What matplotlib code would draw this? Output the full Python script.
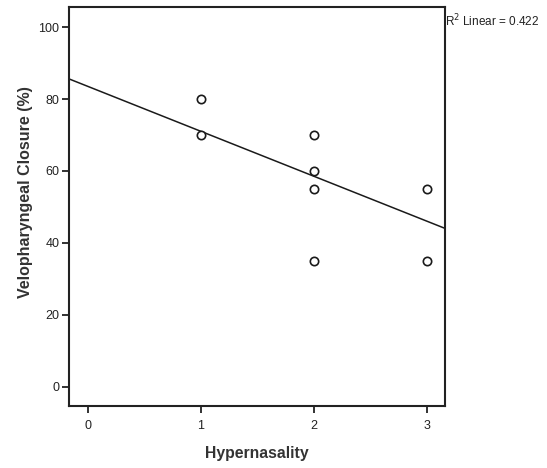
import matplotlib
matplotlib.use("Agg")
import matplotlib.pyplot as plt
import numpy as np

# Data
hypernasality = [1, 1, 2, 2, 2, 2, 3, 3]
closure = [80, 70, 70, 60, 55, 35, 55, 35]
fit_intercept = 83.5
fit_slope = -12.5
r2_text = "R$^2$ Linear = 0.422"
x_ticks = [0, 1, 2, 3]
y_ticks = [0, 20, 40, 60, 80, 100]

plt.rcParams['font.family'] = ['Liberation Sans', 'DejaVu Sans']

fig = plt.figure(figsize=(5.47, 4.68), dpi=100)
ax = fig.add_axes([69/547, 1 - 406/468, (445 - 69)/547, (406 - 7)/468])

xlim = (-0.168, 3.159)
ylim = (-5.4, 105.6)
ax.set_xlim(*xlim)
ax.set_ylim(*ylim)

xs = np.array(xlim)
ax.plot(xs, fit_intercept + fit_slope * xs, color='#1a1a1a', lw=1.1, zorder=2)
ax.plot(hypernasality, closure, linestyle='none', marker='o', markersize=6,
        markerfacecolor='white', markeredgecolor='#1a1a1a', markeredgewidth=1.2, zorder=3)

ax.set_xticks(x_ticks)
ax.set_yticks(y_ticks)
ax.tick_params(direction='out', length=5, width=1.3, colors='#222222', labelsize=9)
ax.tick_params(axis='x', pad=5)
ax.tick_params(axis='y', pad=2)
for s in ax.spines.values():
    s.set_linewidth(1.5)
    s.set_color('#222222')

ax.set_xlabel('Hypernasality', fontsize=11.3, fontweight='bold', color='#333333')
ax.set_ylabel('Velopharyngeal Closure (%)', fontsize=11.5, fontweight='bold', color='#333333')
ax.xaxis.set_label_coords(0.5, -0.1)
ax.yaxis.set_label_coords(-0.096, 0.535)

fig.text(445/547, 1 - 21/468, r2_text, fontsize=8.5, ha='left', va='center', color='#222222')

fig.savefig('out.png', dpi=100)
